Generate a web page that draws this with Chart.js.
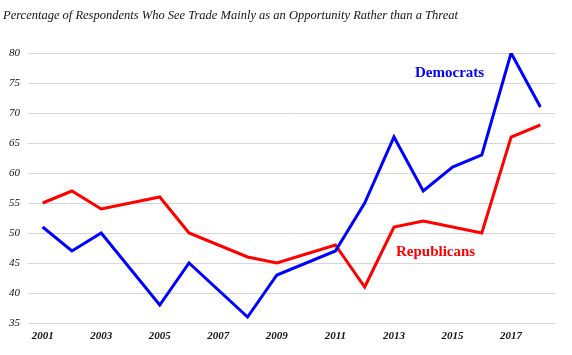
<!DOCTYPE html>
<html>
<head>
<meta charset="utf-8">
<script src="https://cdn.jsdelivr.net/npm/chart.js@4/dist/chart.umd.min.js"></script>
<style>
html,body{margin:0;padding:0;background:#fff;}
#wrap{width:572px;height:355px;position:relative;}
</style>
</head>
<body>
<div id="wrap"><canvas id="c" width="572" height="355"></canvas></div>
<script>
const years = [2001,2002,2003,2004,2005,2006,2007,2008,2009,2010,2011,2012,2013,2014,2015,2016,2017,2018];
const democrats   = [51,47,50,null,38,45,null,36,43,null,47,55,66,57,61,63,80,71];
const republicans = [55,57,54,null,56,50,null,46,45,null,48,41,51,52,51,50,66,68];
const yTicks = [35,40,45,50,55,60,65,70,75,80];
const titleText = 'Percentage of Respondents Who See Trade Mainly as an Opportunity Rather than a Threat';
const seriesLabels = ['Democrats','Republicans'];

const SERIF = '"Liberation Serif", "DejaVu Serif", serif';
const BLUE = '#0000ff', RED = '#ff0000';

const labelPlugin = {
  id: 'seriesLabels',
  afterDatasetsDraw(chart) {
    const {ctx, scales:{x, y}} = chart;
    const spots = [
      {text: seriesLabels[0], xi: 13.9, yv: 76.7, color: BLUE},
      {text: seriesLabels[1], xi: 13.42, yv: 46.8, color: RED}
    ];
    ctx.save();
    ctx.font = 'bold 15px ' + SERIF;
    ctx.textAlign = 'center';
    ctx.textBaseline = 'middle';
    spots.forEach(s => {
      ctx.fillStyle = s.color;
      ctx.fillText(s.text, x.getPixelForValue(s.xi), y.getPixelForValue(s.yv));
    });
    ctx.restore();
  }
};

new Chart(document.getElementById('c'), {
  type: 'line',
  data: {
    labels: years.map(String),
    datasets: [
      {label: seriesLabels[0], data: democrats, borderColor: BLUE, backgroundColor: BLUE, borderWidth: 3, pointRadius: 0, tension: 0, spanGaps: true},
      {label: seriesLabels[1], data: republicans, borderColor: RED, backgroundColor: RED, borderWidth: 3, pointRadius: 0, tension: 0, spanGaps: true}
    ]
  },
  options: {
    responsive: false,
    animation: false,
    layout: {padding: {left: 3, right: 17, top: 0, bottom: 0}},
    plugins: {
      legend: {display: false},
      tooltip: {enabled: false},
      title: {
        display: true,
        text: titleText,
        align: 'start',
        color: '#111',
        font: {family: SERIF, size: 12.5, style: 'italic', weight: 'normal', lineHeight: 1.2},
        padding: {top: 8, bottom: 30}
      }
    },
    scales: {
      x: {
        type: 'category',
        offset: true,
        grid: {display: false, drawTicks: false},
        border: {display: false},
        afterFit(scale) { scale.height = 32; },
        ticks: {
          autoSkip: false, maxRotation: 0, padding: 7,
          color: '#111',
          font: {family: SERIF, size: 11, style: 'italic', weight: 'bold'},
          callback(val, i) { const yr = years[i]; return (yr % 2 === 1) ? String(yr) : ''; }
        }
      },
      y: {
        min: 35, max: 80,
        afterBuildTicks(scale) { scale.ticks = yTicks.map(v => ({value: v})); },
        afterFit(scale) { scale.width = 25; },
        grid: {color: '#d6d6d6', lineWidth: 1, drawTicks: false},
        border: {display: false},
        ticks: {
          padding: 8, color: '#111',
          font: {family: SERIF, size: 11, style: 'italic'}
        }
      }
    }
  },
  plugins: [labelPlugin]
});
</script>
</body>
</html>
